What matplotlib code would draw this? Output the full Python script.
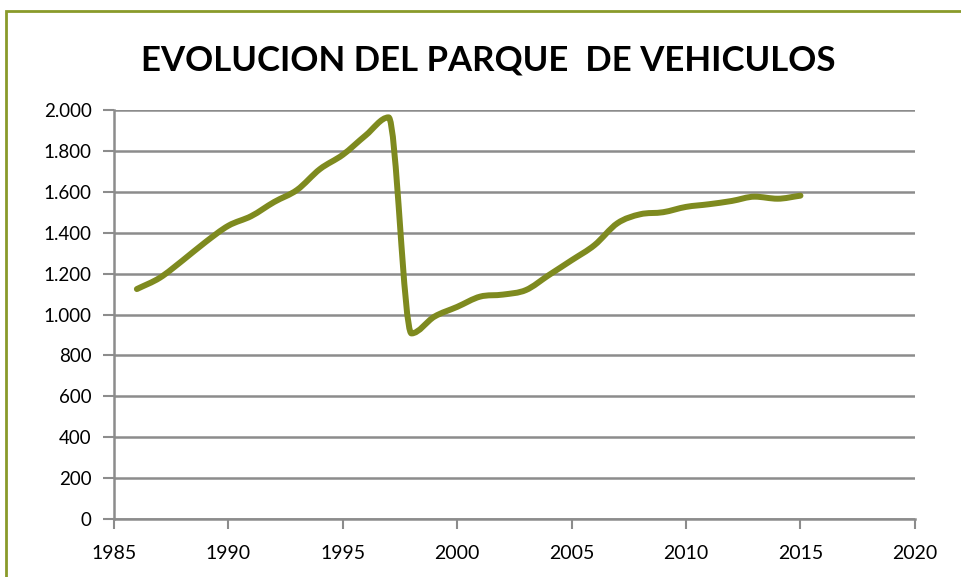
import matplotlib
matplotlib.use("Agg")
import matplotlib.pyplot as plt
from matplotlib.path import Path
from matplotlib.patches import PathPatch, Rectangle
from matplotlib.ticker import FuncFormatter, MultipleLocator

years = [1986, 1987, 1988, 1989, 1990, 1991, 1992, 1993, 1994, 1995,
         1996, 1997, 1998, 1999, 2000, 2001, 2002, 2003, 2004, 2005,
         2006, 2007, 2008, 2009, 2010, 2011, 2012, 2013, 2014, 2015]
vehicles = [1125, 1180, 1265, 1355, 1435, 1482, 1551, 1610, 1712, 1782,
            1877, 1965, 908, 990, 1038, 1088, 1098, 1120, 1193, 1266,
            1340, 1447, 1491, 1501, 1527, 1540, 1556, 1577, 1567, 1582]

title = "EVOLUCION DEL PARQUE  DE VEHICULOS"
line_color = "#7E8A1F"
grid_color = "#8C8C8C"


def smooth_path(xs, ys):
    # smoothed line drawn as cubic Bezier segments, flat at turning points
    n = len(xs)
    slopes = [(ys[i + 1] - ys[i]) / (xs[i + 1] - xs[i]) for i in range(n - 1)]
    tangents = []
    for i in range(n):
        if i == 0:
            m = slopes[0]
        elif i == n - 1:
            m = slopes[-1]
        else:
            left, right = slopes[i - 1], slopes[i]
            if left * right <= 0:
                m = 0.0
            else:
                m = (left + right) / 2
                limit = 3 * min(abs(left), abs(right))
                if abs(m) > limit:
                    m = limit if m > 0 else -limit
        tangents.append(m)

    verts = [(xs[0], ys[0])]
    codes = [Path.MOVETO]
    for i in range(n - 1):
        h = (xs[i + 1] - xs[i]) / 3
        verts += [
            (xs[i] + h, ys[i] + tangents[i] * h),
            (xs[i + 1] - h, ys[i + 1] - tangents[i + 1] * h),
            (xs[i + 1], ys[i + 1]),
        ]
        codes += [Path.CURVE4] * 3
    return Path(verts, codes)


plt.rcParams["font.family"] = ["Lato", "DejaVu Sans"]

fig = plt.figure(figsize=(9.62, 5.77), dpi=100)
ax = fig.add_axes([0.1185, 0.1005, 0.8325, 0.7085])

patch = PathPatch(
    smooth_path(years, vehicles),
    facecolor="none",
    edgecolor=line_color,
    linewidth=4.3,
    capstyle="round",
    joinstyle="round",
    zorder=3,
)
ax.add_patch(patch)

ax.set_xlim(1985, 2020)
ax.set_ylim(0, 2000)
ax.xaxis.set_major_locator(MultipleLocator(5))
ax.yaxis.set_major_locator(MultipleLocator(200))
ax.yaxis.set_major_formatter(
    FuncFormatter(lambda v, _: f"{int(v):,}".replace(",", "."))
)

ax.grid(axis="y", color=grid_color, linewidth=1.8)
ax.set_axisbelow(True)
for side in ["top", "right"]:
    ax.spines[side].set_visible(False)
for side in ["left", "bottom"]:
    ax.spines[side].set_color(grid_color)
    ax.spines[side].set_linewidth(1.8)

ax.tick_params(axis="x", colors=grid_color, length=7, width=1.5,
               labelsize=14, labelcolor="black", pad=12)
ax.tick_params(axis="y", colors=grid_color, length=8, width=1.5,
               labelsize=13.5, labelcolor="black", pad=8)

fig.text(0.508, 0.896, title, ha="center", va="center",
         fontsize=25, fontweight="bold")

# chart area border
fig.patches.append(
    Rectangle((6 / 962, -0.2), 1.2, 1.2 - 11 / 577,
              transform=fig.transFigure, fill=False,
              edgecolor="#8A9A2A", linewidth=2)
)

fig.savefig("out.png", dpi=100)
